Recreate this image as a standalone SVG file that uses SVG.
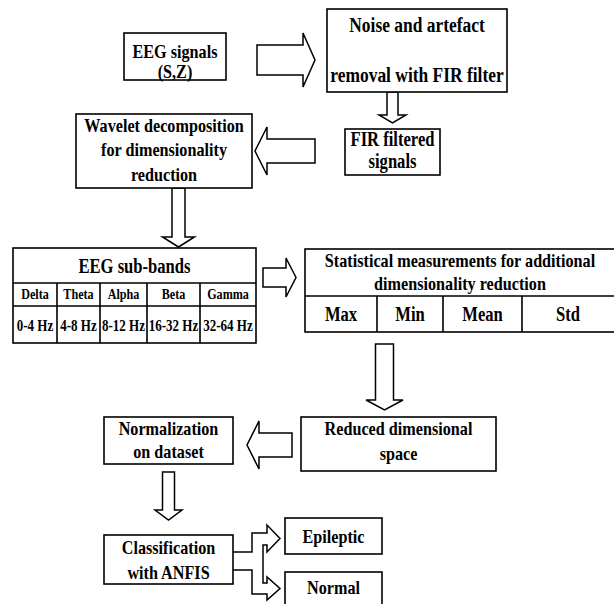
<svg xmlns="http://www.w3.org/2000/svg" width="614" height="604" viewBox="0 0 614 604">
<style>
.b{fill:#fff;stroke:#000;stroke-width:1.6}
.l{fill:none;stroke:#000;stroke-width:1.6}
.a{fill:#fff;stroke:#000;stroke-width:1.5;stroke-linejoin:miter}
.t{font-family:"Liberation Serif","Times New Roman",serif;font-weight:bold;font-size:19.5px;text-anchor:middle;fill:#000}
.m{font-size:20px}
.g{font-size:21px}
.s{font-size:14.6px}
.h{font-size:15.7px}
</style>
<rect width="614" height="604" fill="#fff"/>
<g id="connectors">
<polygon class="a" points="257,45 303,45 303,33 315,60 303,87 303,75 257,75"/>
<polygon class="a" points="387,92 398,92 398,115 406,115 392.5,123 379,115 387,115"/>
<polygon class="a" points="315,139 267,139 267,127 255,151 267,175 267,163 315,163"/>
<polygon class="a" points="172,188 185,188 185,237 194.5,237 178.5,247 162.5,237 172,237"/>
<polygon class="a" points="263,268 286,268 286,258 296,277.5 286,297 286,287 263,287"/>
<polygon class="a" points="375.5,344 393.5,344 393.5,400 403,400 384.5,410 366,400 375.5,400"/>
<polygon class="a" points="292,433 259,433 259,421 247,445 259,469 259,457 292,457"/>
<polygon class="a" points="162.5,472 174.5,472 174.5,510 182,510 168.5,520 155,510 162.5,510"/>
<path class="a" d="M233,552 H252 V533 H267 V525 L280,538.5 L267,552 V545 H263 V583 H267 V577 L280,588.5 L267,600 V594 H252 V570 H233"/>
</g>
<g id="eeg">
<rect class="b" x="124" y="33" width="102" height="47"/>
<text class="t" transform="translate(175,58) scale(0.83,1)">EEG signals</text>
<text class="t" transform="translate(175,78) scale(0.83,1)">(S,Z)</text>
</g>
<g id="noise">
<rect class="b" x="327" y="9" width="180" height="83"/>
<text class="t g" transform="translate(417,32) scale(0.83,1)">Noise and artefact</text>
<text class="t g" transform="translate(417,82) scale(0.83,1)">removal with FIR filter</text>
</g>
<g id="fir">
<rect class="b" x="345" y="129" width="95" height="46"/>
<text class="t m" transform="translate(392.5,146) scale(0.83,1)">FIR filtered</text>
<text class="t m" transform="translate(392.5,168) scale(0.83,1)">signals</text>
</g>
<g id="wavelet">
<rect class="b" x="76" y="114" width="176" height="74"/>
<text class="t" transform="translate(164,132) scale(0.83,1)">Wavelet decomposition</text>
<text class="t" transform="translate(164,156) scale(0.83,1)">for dimensionality</text>
<text class="t" transform="translate(164,181) scale(0.83,1)">reduction</text>
</g>
<g id="subbands">
<rect class="b" x="13" y="248" width="243" height="95"/>
<path class="l" d="M13,283 H256 M13,306 H256 M57,283 V343 M100,283 V343 M147,283 V343 M200,283 V343"/>
<text class="t m" transform="translate(134.5,273) scale(0.83,1)">EEG sub-bands</text>
<text class="t s" transform="translate(35,299) scale(0.83,1)">Delta</text>
<text class="t s" transform="translate(78.5,299) scale(0.83,1)">Theta</text>
<text class="t s" transform="translate(123.5,299) scale(0.83,1)">Alpha</text>
<text class="t s" transform="translate(173.5,299) scale(0.83,1)">Beta</text>
<text class="t s" transform="translate(228,299) scale(0.83,1)">Gamma</text>
<text class="t h" transform="translate(35,331) scale(0.83,1)">0-4 Hz</text>
<text class="t h" transform="translate(78.5,331) scale(0.83,1)">4-8 Hz</text>
<text class="t h" transform="translate(123.5,331) scale(0.83,1)">8-12 Hz</text>
<text class="t h" transform="translate(173.5,331) scale(0.83,1)">16-32 Hz</text>
<text class="t h" transform="translate(228,331) scale(0.83,1)">32-64 Hz</text>
</g>
<g id="stats">
<rect class="b" x="305" y="249" width="312" height="83"/>
<path class="l" d="M305,296 H617 M377,296 V332 M443,296 V332 M522,296 V332"/>
<text class="t" transform="translate(460,267) scale(0.83,1)">Statistical measurements for additional</text>
<text class="t" transform="translate(460,290) scale(0.83,1)">dimensionality reduction</text>
<text class="t m" transform="translate(341,321) scale(0.83,1)">Max</text>
<text class="t m" transform="translate(410,321) scale(0.83,1)">Min</text>
<text class="t m" transform="translate(482.5,321) scale(0.83,1)">Mean</text>
<text class="t m" transform="translate(568,321) scale(0.83,1)">Std</text>
</g>
<g id="reduced">
<rect class="b" x="301" y="417" width="195" height="54"/>
<text class="t" transform="translate(398.5,435) scale(0.83,1)">Reduced dimensional</text>
<text class="t" transform="translate(398.5,460) scale(0.83,1)">space</text>
</g>
<g id="normalization">
<rect class="b" x="104" y="417" width="129" height="47"/>
<text class="t" transform="translate(168.5,435) scale(0.83,1)">Normalization</text>
<text class="t" transform="translate(168.5,458) scale(0.83,1)">on dataset</text>
</g>
<g id="classification">
<rect class="b" x="104" y="535" width="129" height="49"/>
<text class="t" transform="translate(168.5,554) scale(0.83,1)">Classification</text>
<text class="t" transform="translate(168.5,579) scale(0.83,1)">with ANFIS</text>
</g>
<g id="epileptic">
<rect class="b" x="285" y="518" width="97" height="36"/>
<text class="t" transform="translate(333.5,543) scale(0.83,1)">Epileptic</text>
</g>
<g id="normal">
<rect class="b" x="285" y="572" width="97" height="36"/>
<text class="t" transform="translate(333.5,594) scale(0.83,1)">Normal</text>
</g>
</svg>
